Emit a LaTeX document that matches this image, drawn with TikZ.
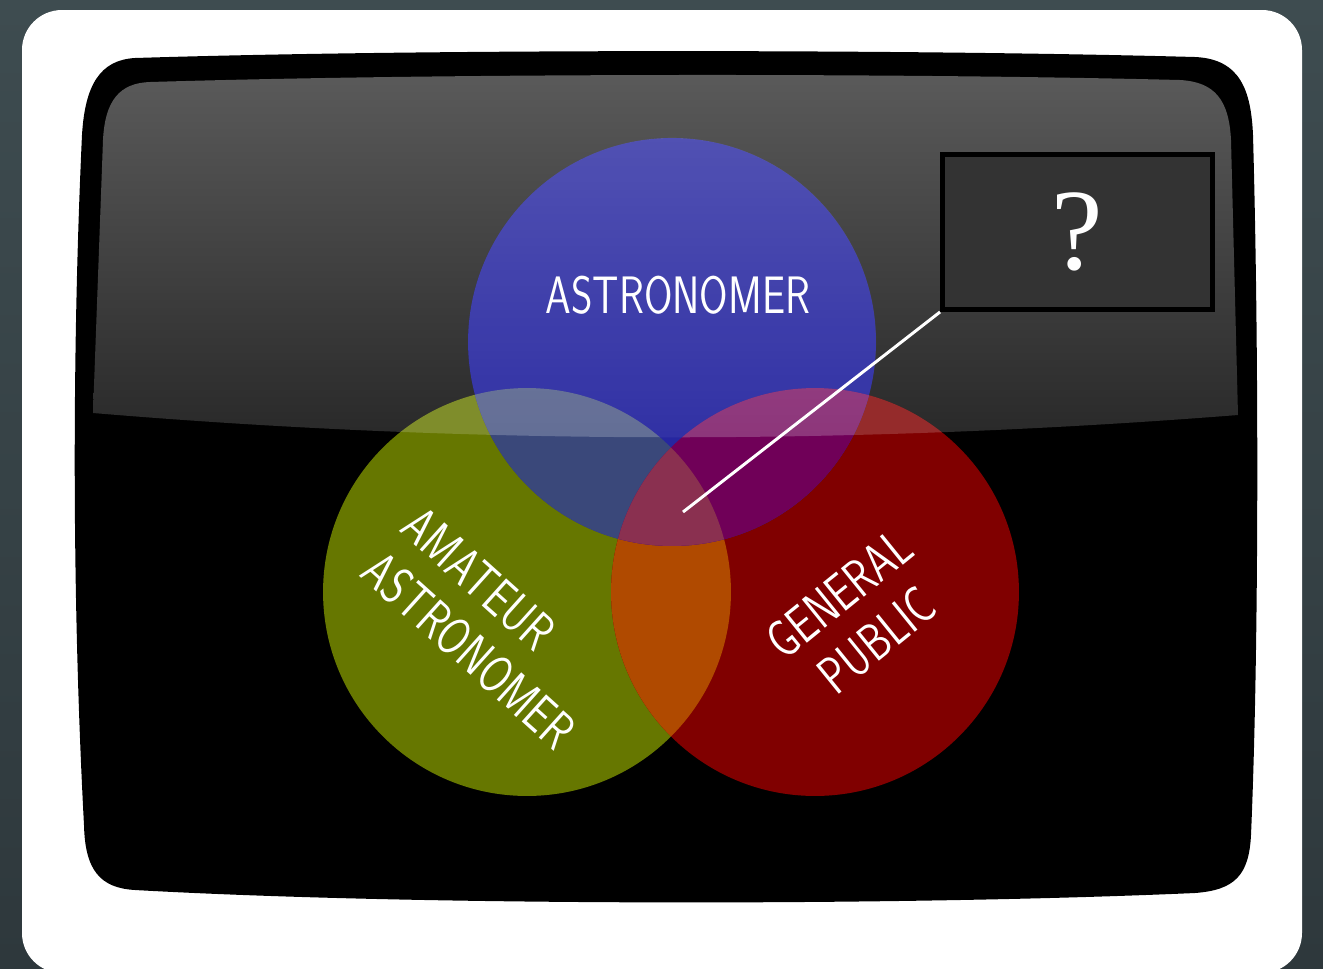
\documentclass[tikz,border=0pt]{standalone}
\usepackage{graphicx}
\usepackage{fontspec}
\usetikzlibrary{fadings}
\newfontfamily\qfont{Liberation Serif}
\definecolor{backdrop}{RGB}{46,56,60}
\definecolor{backdroplight}{RGB}{62,76,80}
\definecolor{glosstop}{RGB}{90,90,90}
\definecolor{glossbot}{RGB}{40,40,40}
\definecolor{astroblue}{RGB}{38,38,160}
\definecolor{amateurgreen}{RGB}{102,119,0}
\definecolor{publicred}{RGB}{128,0,0}
\definecolor{bgmix}{RGB}{58,72,122}
\definecolor{brmix}{RGB}{112,0,88}
\definecolor{grmix}{RGB}{176,74,0}
\definecolor{allmix}{RGB}{138,48,80}
\definecolor{boxgray}{RGB}{51,51,51}
\newcommand\glossshape{(150,82) .. controls (450,73) and (900,73) .. (1180,80) .. controls (1215,82) and (1229,100) .. (1231,140) -- (1238,415) .. controls (856,445) and (475,445) .. (93,413) -- (103,140) .. controls (105,100) and (120,83) .. (150,82) -- cycle}
\begin{document}
\begin{tikzpicture}[x=0.02cm,y=-0.02cm,
    lbl/.style={text=white,font=\sffamily\fontsize{30}{34}\selectfont,rotate=#1,xscale=0.78},
    lbl/.default=0,
    qbox/.style={draw=black,line width=2.8pt,fill=boxgray,text=white,minimum width=5.4cm,minimum height=3.1cm,font=\qfont\fontsize{66}{66}\selectfont}]
\clip (0,0) rectangle (1323,968);
\shade[top color=backdroplight,bottom color=backdrop] (0,0) rectangle (1323,968);
\fill[white,rounded corners=0.8cm] (22,10) rectangle (1302,973);
\fill[black] (135,58) .. controls (420,49) and (900,49) .. (1195,57)
  .. controls (1240,59) and (1251,90) .. (1253,135)
  .. controls (1259,350) and (1259,650) .. (1251,835)
  .. controls (1249,875) and (1235,890) .. (1195,893)
  .. controls (900,906) and (420,906) .. (135,890)
  .. controls (100,888) and (85,870) .. (84,825)
  .. controls (72,600) and (72,350) .. (82,135)
  .. controls (85,85) and (100,60) .. (135,58) -- cycle;
\shade[top color=glosstop,bottom color=glossbot] \glossshape;
% venn circles
\coordinate (astro) at (672,342);
\coordinate (amateur) at (527,592);
\coordinate (public) at (815,592);
\fill[amateurgreen] (amateur) circle[radius=4.08cm];
\fill[publicred] (public) circle[radius=4.08cm];
\fill[astroblue] (astro) circle[radius=4.08cm];
\begin{scope}
  \clip (amateur) circle[radius=4.08cm];
  \fill[grmix] (public) circle[radius=4.08cm];
\end{scope}
\begin{scope}
  \clip (astro) circle[radius=4.08cm];
  \fill[bgmix] (amateur) circle[radius=4.08cm];
  \fill[brmix] (public) circle[radius=4.08cm];
  \clip (amateur) circle[radius=4.08cm];
  \fill[allmix] (public) circle[radius=4.08cm];
\end{scope}
\begin{scope}
  \clip \glossshape;
  \fill[white,fill opacity=0.2,path fading=south] (astro) circle[radius=4.08cm];
  \fill[white,fill opacity=0.17] (amateur) circle[radius=4.08cm] (public) circle[radius=4.08cm];
\end{scope}
\node[lbl] (astrolbl) at (678,295) {ASTRONOMER};
\node[lbl=-42,align=left] (amateurlbl) at (489,628) {AMATEUR\\ASTRONOMER};
\node[lbl=39,align=center] (publiclbl) at (858,617) {GENERAL\\PUBLIC};
\node[qbox] (question) at (1077.5,232) {?};
\coordinate (pointer) at (683,512);
\draw[white,line width=1.7pt] (question.south west) -- (pointer);
\end{tikzpicture}
\end{document}
